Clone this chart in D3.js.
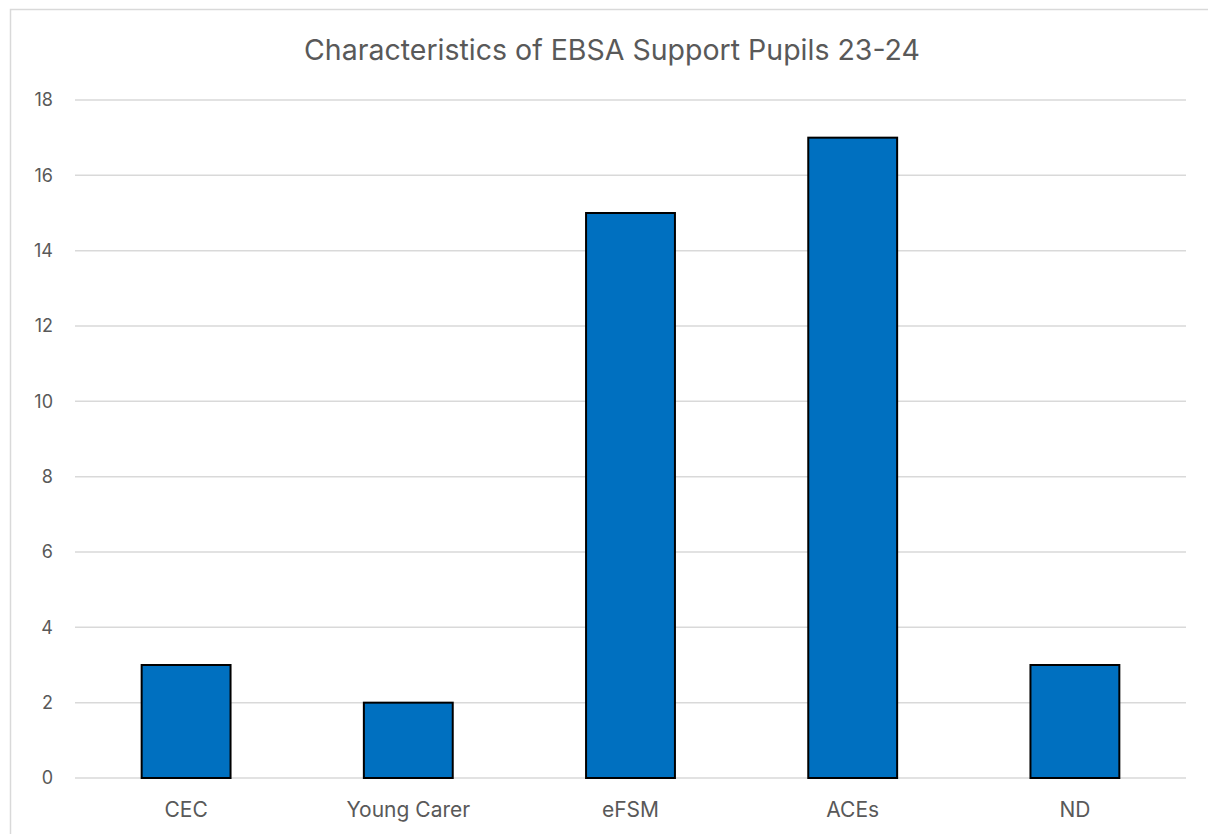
<!DOCTYPE html>
<html>
<head>
<meta charset="utf-8">
<script src="https://cdn.jsdelivr.net/npm/d3@7"></script>
<style>
  html, body { margin: 0; padding: 0; background: #fff; }
  svg { display: block; }
</style>
</head>
<body>
<svg id="chart" width="1208" height="834"></svg>
<script>
// Pupil characteristics counts
const categories = ["CEC", "Young Carer", "eFSM", "ACEs", "ND"];
const counts = [3, 2, 15, 17, 3];
const yTicks = [0, 2, 4, 6, 8, 10, 12, 14, 16, 18];
const title = "Characteristics of EBSA Support Pupils 23-24";

const svg = d3.select("#chart");
const font = "Inter, 'Open Sans', sans-serif";
const textColor = "#595959";

// Chart area frame
svg.append("rect")
  .attr("x", 10.5).attr("y", 9.5)
  .attr("width", 1210).attr("height", 840)
  .attr("fill", "#fff")
  .attr("stroke", "#d9d9d9")
  .attr("stroke-width", 1.5);

const plot = { left: 75, right: 1186, top: 100, bottom: 778 };

const x = d3.scaleBand()
  .domain(categories)
  .range([plot.left, plot.right])
  .paddingInner(0.6)
  .paddingOuter(0.3);

const y = d3.scaleLinear()
  .domain([0, 18])
  .range([plot.bottom, plot.top]);

// Horizontal gridlines
svg.append("g")
  .selectAll("line")
  .data(yTicks)
  .join("line")
  .attr("x1", plot.left).attr("x2", plot.right)
  .attr("y1", d => y(d)).attr("y2", d => y(d))
  .attr("stroke", "#d9d9d9")
  .attr("stroke-width", 1.5);

// Y tick labels
svg.append("g")
  .selectAll("text")
  .data(yTicks)
  .join("text")
  .attr("x", 53)
  .attr("y", d => y(d))
  .attr("dy", "0.36em")
  .attr("text-anchor", "end")
  .attr("font-family", font)
  .attr("font-size", 18)
  .attr("fill", textColor)
  .text(d => d);

// Bars
svg.append("g")
  .selectAll("rect")
  .data(categories.map((c, i) => ({ c, v: counts[i] })))
  .join("rect")
  .attr("x", d => x(d.c))
  .attr("y", d => y(d.v))
  .attr("width", x.bandwidth())
  .attr("height", d => y(0) - y(d.v))
  .attr("fill", "#0070C0")
  .attr("stroke", "#000")
  .attr("stroke-width", 2);

// Category labels
svg.append("g")
  .selectAll("text")
  .data(categories)
  .join("text")
  .attr("x", d => x(d) + x.bandwidth() / 2)
  .attr("y", 817)
  .attr("text-anchor", "middle")
  .attr("font-family", font)
  .attr("font-size", 21)
  .attr("fill", textColor)
  .text(d => d);

// Title
svg.append("text")
  .attr("x", 612)
  .attr("y", 60)
  .attr("text-anchor", "middle")
  .attr("font-family", font)
  .attr("font-size", 28.5)
  .attr("fill", textColor)
  .text(title);
</script>
</body>
</html>
